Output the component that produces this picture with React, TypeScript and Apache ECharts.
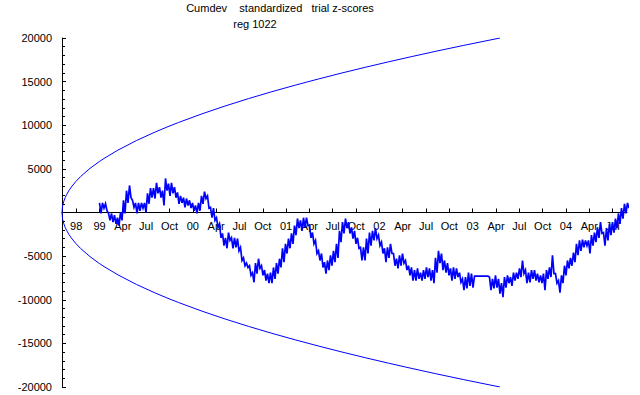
import React, { useEffect, useRef } from 'react';
import * as echarts from 'echarts';

const titleText = 'Cumdev    standardized   trial z-scores';
const subtitleText = 'reg 1022';

const axisStartYear = 1998.598;
const axisEndYear = 2004.654;
const traceStartYear = 1999.0;
const traceStepYears = 0.016077;

// local highs and lows of the cumulative deviation, one pair per ~3px column
const traceHighs = [
  1100, 1100, 1000, -100, -100, -300, -600, 0, 1400, 2500, 3100, 1400, 1100, 1100, 1100, 1100, 2200, 2800, 2800, 3400,
  2900, 2500, 3900, 3300, 3400, 2900, 2300, 1900, 1700, 1600, 1400, 1100, 800, 1100, 1900, 2400, 1900, 600, 500, -600,
  -1300, -2400, -2900, -2300, -2900, -2900, -3000, -4000, -5200, -5800, -6100, -6900, -5800, -5300, -6100, -6600, -7000, -6900, -6300, -5800,
  -5300, -4100, -3600, -3000, -2400, -1500, -700, -900, -600, -600, -1500, -2300, -3200, -4400, -4700, -5700, -5500, -4900, -4400, -3600,
  -2100, -1100, -700, -1100, -1700, -2100, -2900, -4000, -4000, -3000, -2300, -2100, -1800, -2600, -3400, -4100, -4000, -3600, -4700, -5300,
  -4900, -4700, -5500, -6100, -6300, -6600, -6400, -6900, -6600, -6300, -6400, -6600, -5200, -4400, -4700, -5500, -5800, -6400, -6300, -6400,
  -6900, -7600, -7400, -6900, -7000, -7300, -7300, -7300, -7300, -7300, -7400, -7600, -7200, -7600, -8100, -7400, -7200, -7400, -6900, -6900,
  -6400, -5500, -6600, -6900, -6600, -6600, -7000, -7200, -7000, -6600, -6300, -4900, -7000, -7800, -7200, -6100, -5500, -5200, -4600, -3600,
  -3200, -3100, -3200, -3200, -2600, -2300, -1700, -1100, -2300, -1800, -1300, -1100, -700, -100, 500, 1000, 1100,
];
const traceLows = [
  -100, 500, 200, -900, -1100, -1300, -1500, -900, -100, 1100, 1700, 600, -100, 200, 500, 0, 1000, 1700, 1600, 2200,
  1700, 800, 2500, 1900, 2200, 1700, 1000, 1100, 600, 800, 500, 200, -100, 200, 1000, 1600, 500, -600, -900, -1700,
  -2900, -3800, -4100, -3200, -4100, -4000, -4400, -5500, -6100, -6300, -7200, -8000, -7000, -6400, -7200, -7800, -8100, -8100, -7600, -7000,
  -6300, -5700, -4700, -4100, -3600, -2600, -1800, -2100, -1700, -1500, -2900, -3600, -4700, -5500, -6300, -7000, -6600, -6100, -5700, -5200,
  -3400, -2400, -1800, -2400, -3000, -3600, -4100, -5500, -5500, -4700, -3800, -3200, -3000, -3800, -4700, -5700, -5200, -4700, -6100, -6400,
  -6100, -5800, -6600, -7200, -7800, -7800, -7600, -7800, -7600, -7400, -7800, -8100, -6900, -5800, -6600, -6900, -7200, -7800, -7600, -7400,
  -8000, -8900, -8700, -8400, -8600, -7300, -7300, -7300, -7300, -7300, -8900, -8700, -8600, -9300, -9700, -8600, -8100, -8400, -7800, -7600,
  -7400, -7000, -8100, -8000, -7600, -7800, -8000, -8100, -8900, -7600, -7400, -7000, -8100, -9200, -8100, -7200, -6400, -6100, -5700, -4900,
  -4400, -4000, -3800, -4700, -3800, -3400, -2900, -2400, -3800, -3200, -2600, -2300, -1800, -1300, -700, -100, 500,
];

// envelope (years after axis start, value)
const envelopeOffsets = [0, 0.005, 0.01, 0.02, 0.035, 0.05, 0.075, 0.1, 0.15, 0.2, 0.3, 0.4, 0.45, 0.6, 0.8, 1.0, 1.125, 1.25, 1.5, 1.75, 2.0, 2.25, 2.5, 2.75, 3.0, 3.25, 3.5, 3.75, 4.0, 4.3, 4.6945];
const envelopeValues = [0, 653, 923, 1305, 1727, 2064, 2528, 2919, 3575, 4128, 5056, 5838, 6192, 7150, 8257, 9231, 9791, 10321, 11305, 12212, 13055, 13847, 14595, 15308, 15989, 16642, 17270, 17876, 18462, 19142, 20000];

const xTickLabels = ['98', '99', 'Apr', 'Jul', 'Oct', '00', 'Apr', 'Jul', 'Oct', '01', 'Apr', 'Jul', 'Oct', '02', 'Apr', 'Jul', 'Oct', '03', 'Apr', 'Jul', 'Oct', '04', 'Apr', 'Jul'];
const firstTickYear = 1998.75;
const tickStepYears = 0.25;

const FONT = '"Liberation Sans", Arial, Helvetica, sans-serif';
const BLUE = '#0000ff';
const GRID_TOP = 38;
const GRID_BOTTOM = 8;
const CHART_H = 395;

export default function App() {
  const ref = useRef<HTMLDivElement>(null);
  useEffect(() => {
    document.body.style.margin = '0';
    if (!ref.current) return;
    const chart = echarts.init(ref.current, undefined, { renderer: 'svg' });

    const tickYears = xTickLabels.map((_, i) => firstTickYear + i * tickStepYears);
    const trace: number[][] = [];
    traceHighs.forEach((h, i) => {
      trace.push([traceStartYear + 2 * i * traceStepYears, h]);
      trace.push([traceStartYear + (2 * i + 1) * traceStepYears, traceLows[i]]);
    });
    const upper = envelopeOffsets.map((t, i) => [axisStartYear + t, envelopeValues[i]]);
    const lower = envelopeOffsets.map((t, i) => [axisStartYear + t, -envelopeValues[i]]);
    const plotH = CHART_H - GRID_TOP - GRID_BOTTOM;

    chart.setOption({
      animation: false,
      backgroundColor: '#ffffff',
      graphic: [
        { type: 'text', x: 280, y: 8, style: { text: titleText, fill: '#000', font: `11px ${FONT}`, textAlign: 'center', textVerticalAlign: 'middle' } },
        { type: 'text', x: 255, y: 24, style: { text: subtitleText, fill: '#000', font: `11px ${FONT}`, textAlign: 'center', textVerticalAlign: 'middle' } },
      ],
      grid: { left: 62, right: 13, top: GRID_TOP, bottom: GRID_BOTTOM, containLabel: false, outerBoundsMode: 'none' },
      xAxis: {
        type: 'value',
        position: 'bottom',
        offset: -plotH / 2,
        min: axisStartYear,
        max: axisEndYear,
        axisLine: { show: true, onZero: false, lineStyle: { color: '#000', width: 1 } },
        axisTick: { show: true, inside: true, length: 4, customValues: tickYears, lineStyle: { color: '#000' } },
        axisLabel: {
          customValues: tickYears,
          color: '#000',
          fontSize: 11,
          fontFamily: FONT,
          margin: 8,
          formatter: (v: number) => {
            const idx = Math.round((v - firstTickYear) / tickStepYears);
            return xTickLabels[idx] ?? '';
          },
        },
        splitLine: { show: false },
      },
      yAxis: {
        type: 'value',
        min: -20000,
        max: 20000,
        interval: 5000,
        axisLine: { show: true, onZero: false, lineStyle: { color: '#000', width: 1 } },
        axisTick: { show: true, inside: true, length: 4, lineStyle: { color: '#000' } },
        minorTick: { show: true, splitNumber: 5, length: 3, lineStyle: { color: '#000' } },
        axisLabel: {
          color: '#000',
          fontSize: 11,
          fontFamily: FONT,
          margin: 10,
          formatter: (v: number) => (v === 0 ? '' : String(v)),
        },
        splitLine: { show: false },
      },
      series: [
        { type: 'line', data: upper, showSymbol: false, lineStyle: { color: BLUE, width: 1 }, itemStyle: { color: BLUE }, silent: true },
        { type: 'line', data: lower, showSymbol: false, lineStyle: { color: BLUE, width: 1 }, itemStyle: { color: BLUE }, silent: true },
        { type: 'line', data: trace, showSymbol: false, lineStyle: { color: BLUE, width: 1.7, join: 'miter' }, itemStyle: { color: BLUE }, silent: true },
      ],
    });
    return () => chart.dispose();
  }, []);
  return <div ref={ref} style={{ width: 640, height: 395 }} />;
}
